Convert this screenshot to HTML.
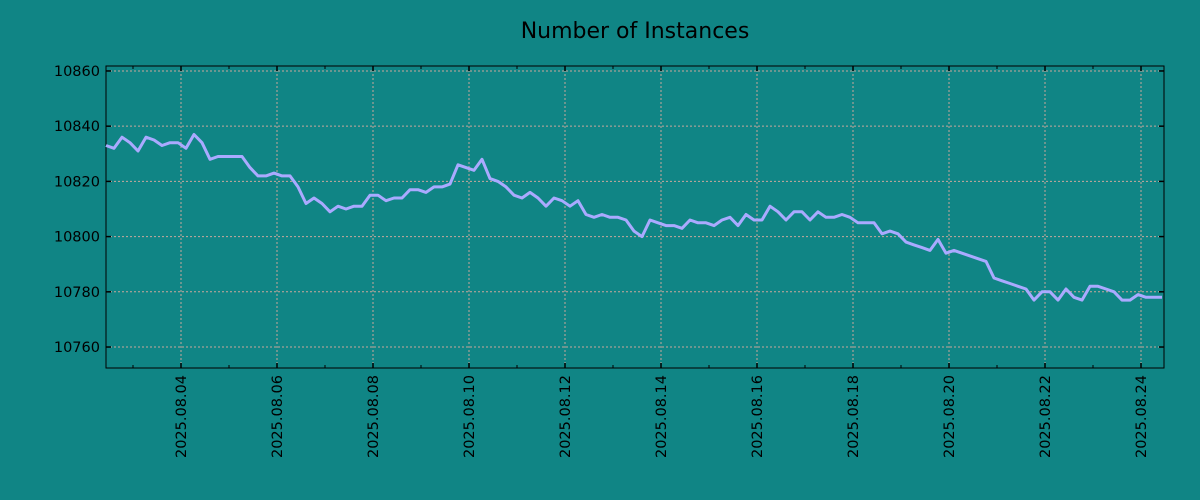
<!DOCTYPE html>
<html><head><meta charset="utf-8"><style>
html,body{margin:0;padding:0;background:#108585;}
svg{display:block;font-family:"DejaVu Sans","Liberation Sans",sans-serif;}
</style></head><body>
<svg id="chart" width="1200" height="500" viewBox="0 0 1200 500">
<rect width="1200" height="500" fill="#108585"/>
<text x="635" y="38" text-anchor="middle" font-size="22" fill="#000">Number of Instances</text>
<g id="grid"></g><g id="axes"></g><g id="series"></g>
</svg>
<script>
const values = [10833,10832,10836,10834,10831,10836,10835,10833,10834,10834,10832,10837,10834,10828,10829,10829,10829,10829,10825,10822,10822,10823,10822,10822,10818,10812,10814,10812,10809,10811,10810,10811,10811,10815,10815,10813,10814,10814,10817,10817,10816,10818,10818,10819,10826,10825,10824,10828,10821,10820,10818,10815,10814,10816,10814,10811,10814,10813,10811,10813,10808,10807,10808,10807,10807,10806,10802,10800,10806,10805,10804,10804,10803,10806,10805,10805,10804,10806,10807,10804,10808,10806,10806,10811,10809,10806,10809,10809,10806,10809,10807,10807,10808,10807,10805,10805,10805,10801,10802,10801,10798,10797,10796,10795,10799,10794,10795,10794,10793,10792,10791,10785,10784,10783,10782,10781,10777,10780,10780,10777,10781,10778,10777,10782,10782,10781,10780,10777,10777,10779,10778,10778,10778];
const startDay = 2.4375;
const stepDays = 1/6;
const yTicks = [10760,10780,10800,10820,10840,10860];
const xTickDays = [4,6,8,10,12,14,16,18,20,22,24];
const xTickLabels = ["2025.08.04","2025.08.06","2025.08.08","2025.08.10","2025.08.12","2025.08.14","2025.08.16","2025.08.18","2025.08.20","2025.08.22","2025.08.24"];

const L=106,R=1164,T=66,B=368;
const xMin=2.4375,xMax=24.479,yMin=10752.4,yMax=10861.8;
const sx=d=>L+(d-xMin)/(xMax-xMin)*(R-L);
const sy=v=>B-(v-yMin)/(yMax-yMin)*(B-T);
const NS="http://www.w3.org/2000/svg";
function mk(tag,parent,attrs){const e=document.createElementNS(NS,tag);for(const k in attrs)e.setAttribute(k,attrs[k]);parent.appendChild(e);return e;}
const grid=document.getElementById('grid'),axes=document.getElementById('axes'),series=document.getElementById('series');
yTicks.forEach(v=>{
  const y=sy(v);
  const g=mk('line',grid,{x1:L,x2:R,y1:y,y2:y,stroke:'#c8a89c','stroke-width':1,'stroke-dasharray':'2,2'});
  
  
  mk('line',axes,{x1:L,x2:L+5,y1:y,y2:y,stroke:'#000','stroke-width':1.5});
  mk('line',axes,{x1:R-5,x2:R,y1:y,y2:y,stroke:'#000','stroke-width':1.5});
  const t=mk('text',axes,{x:L-6,y:y+5,'text-anchor':'end','font-size':14.5,fill:'#000'});
  t.textContent=v;
  
  
});
for(let d=3;d<=24;d++){const x=sx(d);
  mk('line',axes,{x1:x,x2:x,y1:B,y2:B-3,stroke:'#000','stroke-width':1});
  mk('line',axes,{x1:x,x2:x,y1:T,y2:T+3,stroke:'#000','stroke-width':1});}
xTickDays.forEach((d,i)=>{
  const x=sx(d);
  const g=mk('line',grid,{x1:x,x2:x,y1:T,y2:B,stroke:'#c8a89c','stroke-width':1,'stroke-dasharray':'2,2'});
  
  
  mk('line',axes,{x1:x,x2:x,y1:B,y2:B-5,stroke:'#000','stroke-width':1.5});
  mk('line',axes,{x1:x,x2:x,y1:T,y2:T+5,stroke:'#000','stroke-width':1.5});
  const t=mk('text',axes,{x:0,y:0,'text-anchor':'end','font-size':14.5,fill:'#000',transform:`translate(${x+5},${B+7}) rotate(-90)`});
  t.textContent=xTickLabels[i];
  
  
});
const frame=mk('rect',axes,{x:L,y:T,width:R-L,height:B-T,fill:'none',stroke:'#000','stroke-width':1});


const pts=values.map((v,i)=>sx(startDay+i*stepDays).toFixed(1)+','+sy(v).toFixed(1)).join(' ');
const line=mk('polyline',series,{points:pts,fill:'none',stroke:'#aaaaff','stroke-width':3,'stroke-linejoin':'round'});


</script>
</body></html>
